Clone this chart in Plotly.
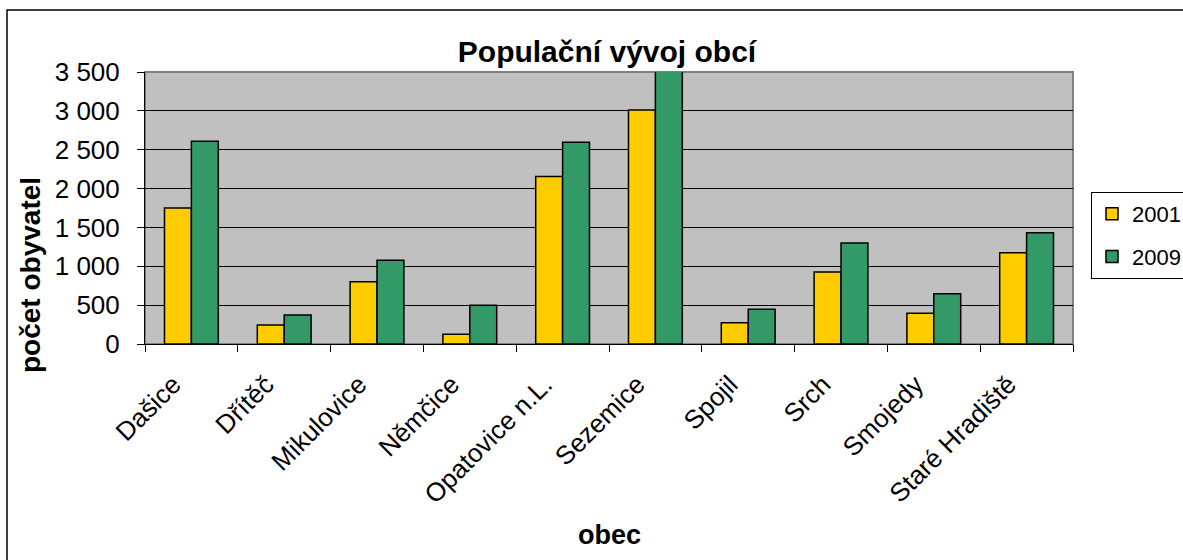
import plotly.graph_objects as go

categories = ["Dašice", "Dřítěč", "Mikulovice", "Němčice", "Opatovice n.L.",
              "Sezemice", "Spojil", "Srch", "Smojedy", "Staré Hradiště"]
values_2001 = [1750, 245, 800, 125, 2155, 3010, 275, 925, 395, 1175]
values_2009 = [2610, 373, 1077, 500, 2595, 3540, 447, 1300, 647, 1430]
y_ticks = [0, 500, 1000, 1500, 2000, 2500, 3000, 3500]
y_ticktext = ["0", "500", "1 000", "1 500", "2 000", "2 500", "3 000", "3 500"]

FONT = "Arial, Liberation Sans, sans-serif"

W, H = 1183, 560
L, T, PW, PH = 145, 72, 928, 272

fig = go.Figure()
fig.add_trace(go.Bar(name="2001", x=categories, y=values_2001, legendgroup="a",
                     marker=dict(color="#FFCC00", line=dict(color="black", width=1.5))))
fig.add_trace(go.Bar(name="2009", x=categories, y=values_2009, legendgroup="b",
                     marker=dict(color="#339966", line=dict(color="black", width=1.5))))

fig.update_layout(
    width=W, height=H,
    margin=dict(l=L, r=W - L - PW, t=T, b=H - T - PH, autoexpand=False),
    paper_bgcolor="white",
    plot_bgcolor="#C0C0C0",
    barmode="group",
    bargap=0.42,
    bargroupgap=0,
    font=dict(family=FONT, color="black"),
    title=dict(text="<b>Populační vývoj obcí</b>", x=607 / W, xanchor="center",
               xref="container", yref="container",
               y=1 - 51 / H, yanchor="middle", font=dict(size=30, family=FONT),
               automargin=False),
    legend=dict(xref="container", yref="container",
                x=1091 / W, xanchor="left", y=1 - 192 / H, yanchor="top",
                bordercolor="black", borderwidth=1, bgcolor="white",
                font=dict(size=22, family=FONT), itemwidth=30,
                tracegroupgap=11),
    showlegend=True,
)

fig.update_yaxes(
    range=[0, 3500],
    automargin=False,
    tickvals=y_ticks, ticktext=y_ticktext,
    tickfont=dict(size=26, family=FONT),
    ticks="outside", ticklen=7, tickcolor="black",
    showline=True, linecolor="black", linewidth=1,
    showgrid=True, gridcolor="black", gridwidth=1,
    zeroline=False,
    ticklabelstandoff=12,
)
fig.update_xaxes(
    automargin=False,
    tickangle=-45,
    tickfont=dict(size=26, family=FONT),
    ticks="outside", ticklen=7, tickcolor="black", tickson="boundaries",
    showline=True, linecolor="black", linewidth=1,
    ticklabelstandoff=14, ticklabelshift=-18,
)

# axis titles
fig.add_annotation(text="<b>počet obyvatel</b>", xref="paper", yref="paper",
                   x=(30 - L) / PW, y=(T + PH - 275) / PH,
                   textangle=-90, showarrow=False, xanchor="center", yanchor="middle",
                   font=dict(size=28, family=FONT))
fig.add_annotation(text="<b>obec</b>", xref="paper", yref="paper",
                   x=(609 - L) / PW, y=(T + PH - 535) / PH,
                   showarrow=False, xanchor="center", yanchor="middle",
                   font=dict(size=27, family=FONT))

# plot frame (gray) on top and right
fig.add_shape(type="rect", xref="paper", yref="paper", x0=0, x1=1, y0=0, y1=1,
              line=dict(color="#808080", width=2), layer="below")
# outer chart border
fig.add_shape(type="rect", xref="paper", yref="paper",
              x0=(7 - L) / PW, x1=(1210 - L) / PW,
              y0=(T + PH - 600) / PH, y1=(T + PH - 10) / PH,
              line=dict(color="black", width=1.5))

fig.write_html("out.html",
               config={"displayModeBar": False},
               post_script="document.body.style.margin='0';document.body.style.overflow='hidden';")
